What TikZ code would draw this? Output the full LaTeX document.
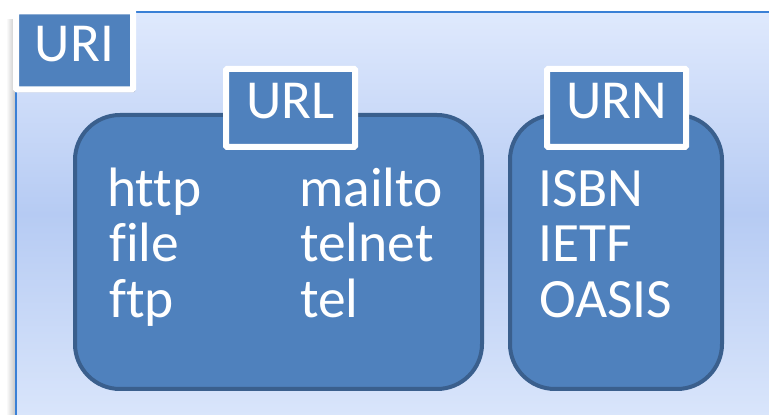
\documentclass[tikz,border=0pt]{standalone}
\usepackage{fontspec}
\setmainfont{Carlito}[Ligatures=NoCommon]
\usetikzlibrary{shadows}
\definecolor{boxfill}{HTML}{4F81BD}
\definecolor{boxline}{HTML}{3A5F8D}
\definecolor{frameline}{HTML}{3A80D6}
\definecolor{bgtop}{HTML}{DFE9FD}
\definecolor{bgmid}{HTML}{B6CBF3}
\definecolor{bgbot}{HTML}{D9E5FB}
\tikzset{
  group/.style={fill=boxfill, draw=boxline, line width=4pt, rounded corners=45pt},
  tag/.style={fill=boxfill, draw=white, line width=6pt, text=white, inner sep=0pt,
    font=\fontsize{55}{55}\selectfont, text height=35pt, text depth=13pt,
    minimum height=78pt, rounded corners=1pt,
    drop shadow={opacity=0.35, shadow xshift=2pt, shadow yshift=-3pt}},
  item/.style={text=white, inner sep=0pt, anchor=base west, font=\fontsize{55.5}{55}\selectfont}
}
\begin{document}
\begin{tikzpicture}[x=1pt,y=1pt]
\useasboundingbox (0,0) rectangle (769,415);
% soft shadow left of the outer area
\shade[left color=white, right color=black!22] (6,0) rectangle (15,395);
% outer area
\shade[top color=bgtop, bottom color=bgbot, middle color=bgmid] (15,0) rectangle (769,403);
\draw[frameline, line width=2.5pt] (16,0) -- (16,403) -- (769,403);
% groups
\draw[group] (75,26) rectangle (482,300);
\draw[group] (510,26) rectangle (722,300);
% tags
\node[tag, minimum width=117pt] (uri) at (74.5,364.5) {URI};
\node[tag, minimum width=129pt] (url) at (290.5,307) {URL};
\node[tag, minimum width=139pt] (urn) at (616.5,307) {URN};
% items
\node[item] (http) at (107,208) {http};
\node[item] (file) at (109,153) {file};
\node[item] (ftp) at (109,97) {ftp};
\node[item] (mailto) at (299,208) {mailto};
\node[item] (telnet) at (300,153) {telnet};
\node[item] (tel) at (300,97) {tel};
\node[item] (isbn) at (538,208) {ISBN};
\node[item] (ietf) at (538,153) {IETF};
\node[item] (oasis) at (539,97) {OASIS};
\end{tikzpicture}
\end{document}
